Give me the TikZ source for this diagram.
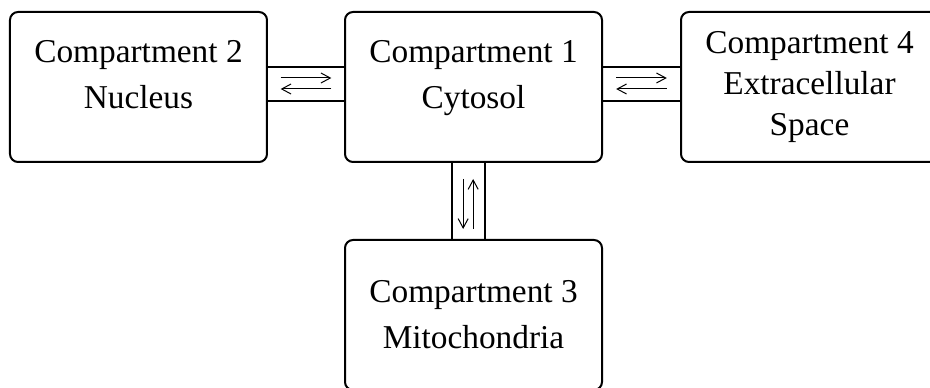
\documentclass[tikz,border=0pt]{standalone}
\usepackage{fontspec}
\setmainfont{Liberation Serif}
\usepackage{tikz}
\usetikzlibrary{positioning, arrows.meta, calc}

\begin{document}
\begin{tikzpicture}[
            compartment/.style={draw=black, line width=1.5pt, rectangle, rounded corners=6pt, outer sep=0pt,
                minimum width=192.75pt, minimum height=112.5pt, align=center,
                font=\fontsize{25pt}{34.5pt}\selectfont},
            raised/.style={text depth=19pt},
            tight/.style={font=\fontsize{25pt}{31pt}\selectfont},
            channel/.style={draw=black, line width=1.5pt, rectangle, outer sep=0pt, inner sep=0pt},
            flux/.style={line width=0.75pt, -{Straight Barb[length=7pt, width=7.5pt]}}
        ]

        \useasboundingbox (-355.125pt,-225.75pt) rectangle (342.375pt,65.25pt);
        \clip (-355.125pt,-225.75pt) rectangle (342.375pt,65.25pt);

        % Kompartimente
        \node[compartment, raised] (cyt) {Compartment 1\\Cytosol};
        \node[compartment, raised, left=58.5pt of cyt] (nuc) {Compartment 2\\Nucleus};
        \node[compartment, tight, right=59.25pt of cyt] (ext) {Compartment 4\\Extracellular\\Space};
        \node[compartment, below=58.5pt of cyt] (mito) {Compartment 3\\Mitochondria};

        % Kanäle
        \node[channel, minimum width=58.5pt, minimum height=25.5pt, yshift=2.25pt] (chnuc) at ($(nuc.east)!0.5!(cyt.west)$) {};
        \node[channel, minimum width=59.25pt, minimum height=25.5pt, yshift=2.25pt] (chext) at ($(cyt.east)!0.5!(ext.west)$) {};
        \node[channel, minimum width=24.75pt, minimum height=58.5pt, xshift=-3.75pt] (chmito) at ($(cyt.south)!0.5!(mito.north)$) {};

        % Flüsse
        \draw[flux] ([shift={(-19pt,4.5pt)}]chnuc.center) -- ([shift={(19pt,4.5pt)}]chnuc.center);
        \draw[flux] ([shift={(19pt,-3.75pt)}]chnuc.center) -- ([shift={(-19pt,-3.75pt)}]chnuc.center);
        \draw[flux] ([shift={(-19pt,4.5pt)}]chext.center) -- ([shift={(19pt,4.5pt)}]chext.center);
        \draw[flux] ([shift={(19pt,-3.75pt)}]chext.center) -- ([shift={(-19pt,-3.75pt)}]chext.center);
        \draw[flux] ([shift={(-4pt,16.5pt)}]chmito.center) -- ([shift={(-4pt,-21pt)}]chmito.center);
        \draw[flux] ([shift={(3.5pt,-21pt)}]chmito.center) -- ([shift={(3.5pt,16.5pt)}]chmito.center);

    \end{tikzpicture}
\end{document}
